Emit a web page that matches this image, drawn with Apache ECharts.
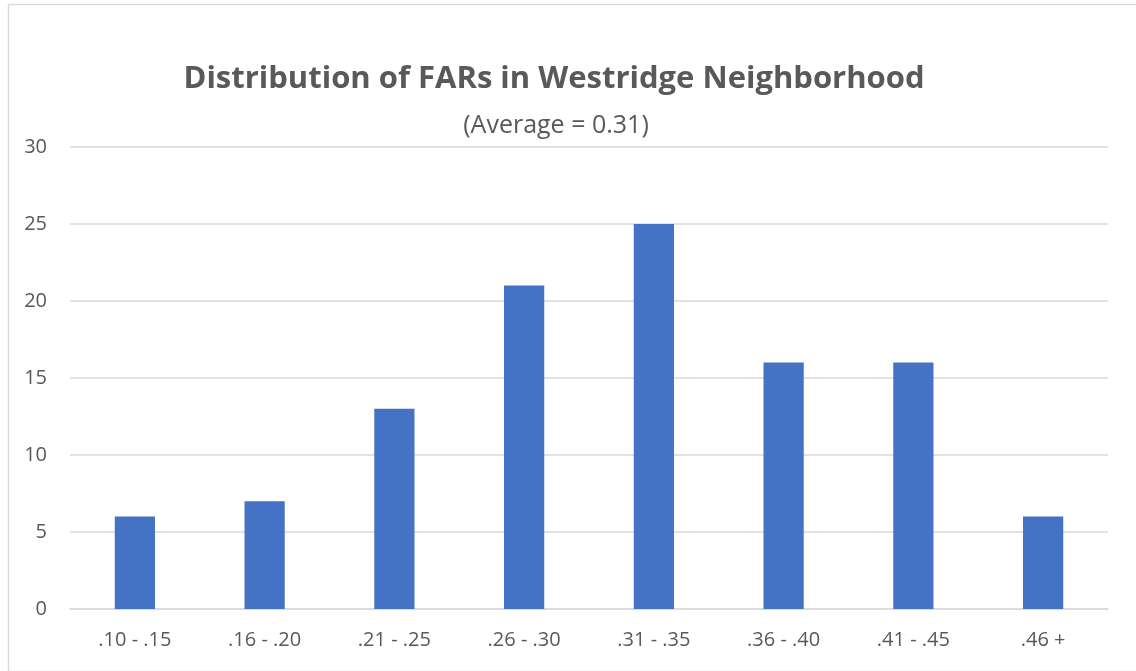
<!DOCTYPE html>
<html><head><meta charset="utf-8">
<script src="https://cdn.jsdelivr.net/npm/echarts@6/dist/echarts.min.js"></script>
<style>html,body{margin:0;padding:0;background:#fff}#c{width:1136px;height:671px}</style>
</head><body><div id="c"></div>
<script>
const titleText = 'Distribution of FARs in Westridge Neighborhood';
const subtitleText = '(Average = 0.31)';
const categories = ['.10 - .15', '.16 - .20', '.21 - .25', '.26 - .30', '.31 - .35', '.36 - .40', '.41 - .45', '.46 +'];
const counts = [6, 7, 13, 21, 25, 16, 16, 6];
const yTicks = [0, 5, 10, 15, 20, 25, 30];

const chart = echarts.init(document.getElementById('c'), null, {renderer: 'canvas'});
chart.setOption({
  backgroundColor: '#fff',
  animation: false,
  graphic: [{
    type: 'rect', left: 6, top: 2, shape: {width: 1140, height: 667},
    style: {fill: 'none', stroke: '#d9d9d9', lineWidth: 1.5}, silent: true
  }],
  title: [{
    text: titleText, left: 549, textAlign: 'center', top: 59,
    textStyle: {fontFamily: 'Open Sans', fontWeight: 'bold', fontSize: 31, color: '#595959'}
  }, {
    text: subtitleText, left: 551, textAlign: 'center', top: 108,
    textStyle: {fontFamily: 'Open Sans', fontWeight: 'normal', fontSize: 25, color: '#595959'}
  }],
  grid: {left: 70, right: 28, top: 147, bottom: 62, containLabel: false},
  xAxis: {
    type: 'category', data: categories,
    axisLine: {lineStyle: {color: '#d9d9d9', width: 1.5}},
    axisTick: {show: false},
    axisLabel: {fontFamily: 'Open Sans', fontSize: 20, color: '#595959', margin: 21}
  },
  yAxis: {
    type: 'value', min: yTicks[0], max: yTicks[yTicks.length - 1], interval: 5,
    axisLine: {show: false}, axisTick: {show: false},
    splitLine: {lineStyle: {color: '#d9d9d9', width: 1.5}},
    axisLabel: {fontFamily: 'Open Sans', fontSize: 20, color: '#595959', margin: 23}
  },
  series: [{
    type: 'bar', data: counts, barWidth: '31%',
    itemStyle: {color: '#4472c4'}
  }]
});
</script></body></html>
